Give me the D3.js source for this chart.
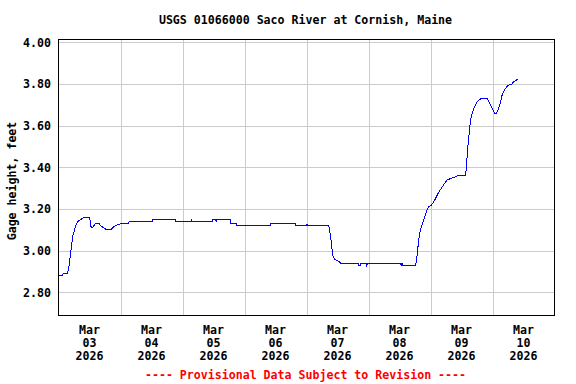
<!DOCTYPE html>
<html>
<head>
<meta charset="utf-8">
<script src="https://cdn.jsdelivr.net/npm/d3@7"></script>
<style>
  html, body { margin: 0; padding: 0; background: #fff; }
  text { font-family: "DejaVu Sans Mono", monospace; font-weight: bold; font-size: 11.6px; }
</style>
</head>
<body>
<svg id="chart"></svg>
<script>
// Gage height readings, hours after 2026-03-03 00:00
const hours = [
  0, 1.7, 1.75, 3.4, 4.0, 4.6, 5.0, 5.5, 6.2, 6.7, 7.5, 8.5, 10, 12.1, 12.4, 13, 13.7, 14.3,
  15.9, 16.3, 17.5, 18.9, 20.5, 20.8, 22, 24, 27.2, 27.3, 36.3, 36.4, 45.3, 45.4, 51.2, 51.4,
  51.7, 59.5, 59.6, 60.8, 61.0, 61.3, 66.5, 66.6, 68.9, 69, 82, 82.1, 91.7, 91.8, 96.0, 96.2,
  96.5, 104.6, 104.9, 105.3, 105.7, 106.1, 106.8, 107.6, 108.4, 109.2, 116.1, 116.3, 116.9,
  117.1, 119.1, 119.3, 119.6, 132.4, 132.6, 133.0, 133.2, 133.8, 138.2, 138.6, 139, 139.4,
  140.1, 140.9, 141.7, 142.5, 143.2, 144.4, 145.5, 147.1, 149, 150.4, 152.4, 154.6, 157.5,
  157.9, 158.3, 158.7, 159.1, 159.5, 160.1, 161, 162.1, 163.4, 166, 167.2, 168, 168.8, 169.5,
  170.3, 171.1, 171.5, 172.3, 173, 174.2, 175.4, 176.1, 177.3, 177.8
];
const gage = [
  2.88, 2.88, 2.89, 2.89, 2.92, 2.98, 3.02, 3.07, 3.10, 3.12, 3.14, 3.15, 3.16, 3.16, 3.12, 3.11, 3.12, 3.13,
  3.13, 3.12, 3.11, 3.10, 3.10, 3.11, 3.12, 3.13, 3.13, 3.14, 3.14, 3.15, 3.15, 3.14, 3.14, 3.15,
  3.14, 3.14, 3.15, 3.15, 3.14, 3.15, 3.15, 3.13, 3.13, 3.12, 3.12, 3.13, 3.13, 3.12, 3.12, 3.13,
  3.12, 3.12, 3.10, 3.07, 3.03, 2.98, 2.96, 2.955, 2.95, 2.94, 2.94, 2.93, 2.93,
  2.94, 2.94, 2.93, 2.94, 2.94, 2.93, 2.94, 2.93, 2.93, 2.93, 2.955, 3.00, 3.05,
  3.10, 3.13, 3.16, 3.19, 3.21, 3.22, 3.24, 3.28, 3.315, 3.34, 3.35, 3.36, 3.36,
  3.40, 3.48, 3.53, 3.58, 3.63, 3.66, 3.69, 3.715, 3.73, 3.73, 3.70, 3.68, 3.66, 3.66,
  3.68, 3.71, 3.74, 3.765, 3.78, 3.795, 3.80, 3.81, 3.82, 3.825
];
const yTicks = [2.8, 3.0, 3.2, 3.4, 3.6, 3.8, 4.0];
const dayLabels = ['03', '04', '05', '06', '07', '08', '09', '10'];

const title = 'USGS 01066000 Saco River at Cornish, Maine';
const yLabel = 'Gage height, feet';
const footer = '---- Provisional Data Subject to Revision ----';

const W = 576, H = 384;
const start = new Date(Date.UTC(2026, 2, 3));
const end = new Date(Date.UTC(2026, 2, 11));
const plotL = 58.5, plotR = 554.5, plotT = 39.5, plotB = 315.5;

const svg = d3.select('#chart').attr('width', W).attr('height', H);

const x = d3.scaleUtc().domain([start, end]).range([plotL, plotR]);
const y = d3.scaleLinear().domain([2.6894, 4.0144]).range([plotB, plotT]);

const data = hours.map((h, i) => ({ t: d3.utcMinute.offset(start, Math.round(h * 60)), v: gage[i] }));

// grid
const grid = svg.append('g').attr('stroke', '#cccccc').attr('stroke-width', 1);
grid.selectAll('line.h').data(yTicks).join('line')
  .attr('x1', plotL).attr('x2', plotR)
  .attr('y1', d => Math.round(y(d)) + 0.5).attr('y2', d => Math.round(y(d)) + 0.5);
grid.selectAll('line.v').data(d3.utcDay.range(d3.utcDay.offset(start, 1), end)).join('line')
  .attr('y1', plotT).attr('y2', plotB)
  .attr('x1', d => Math.round(x(d)) + 0.5).attr('x2', d => Math.round(x(d)) + 0.5);

// line (aliased, like the original bitmap plot)
const line = d3.line().x(d => x(d.t)).y(d => y(d.v));
svg.append('path').datum(data)
  .attr('fill', 'none').attr('stroke', '#0000ff').attr('stroke-width', 1)
  .attr('shape-rendering', 'crispEdges')
  .attr('d', line);

// frame
svg.append('rect')
  .attr('x', plotL).attr('y', plotT)
  .attr('width', plotR - plotL).attr('height', plotB - plotT)
  .attr('fill', 'none').attr('stroke', '#000').attr('stroke-width', 1);

// y tick labels
svg.append('g').selectAll('text').data(yTicks).join('text')
  .attr('x', 51).attr('y', d => y(d) + 4.3)
  .attr('text-anchor', 'end')
  .text(d => d.toFixed(2));

// x tick labels at noon of each day
const xl = svg.append('g').selectAll('text').data(dayLabels).join('text')
  .attr('text-anchor', 'middle')
  .attr('transform', (d, i) => `translate(${x(d3.utcHour.offset(start, 24 * i + 12))},0)`);
xl.append('tspan').attr('x', 0).attr('y', 334.3).text('Mar');
xl.append('tspan').attr('x', 0).attr('y', 347).text(d => d);
xl.append('tspan').attr('x', 0).attr('y', 359.5).text('2026');

// title, axis label, footer
svg.append('text').attr('x', 305.5).attr('y', 24).attr('text-anchor', 'middle').text(title);
svg.append('text')
  .attr('transform', 'translate(16,181) rotate(-90)')
  .attr('text-anchor', 'middle').text(yLabel);
svg.append('text').attr('x', 305.5).attr('y', 379.3).attr('text-anchor', 'middle')
  .attr('fill', '#ff0000').text(footer);
</script>
</body>
</html>
